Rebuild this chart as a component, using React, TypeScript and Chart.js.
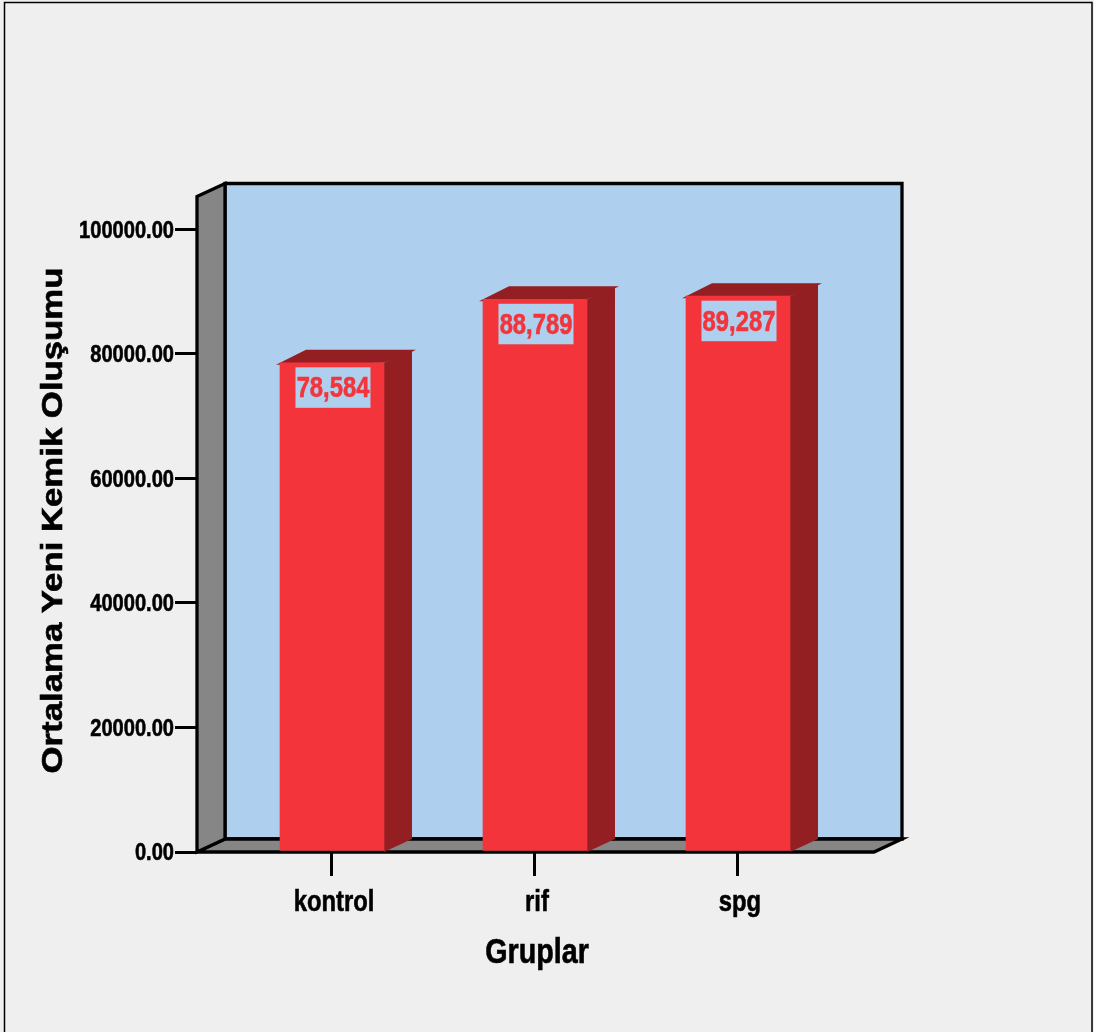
import React, { useEffect, useRef } from "react";
import { Chart, registerables } from "chart.js";

Chart.register(...registerables);

// Group means of new bone formation
const categories = ["kontrol", "rif", "spg"];
const means = [78584, 88789, 89287];
const yTicks = [0, 20000, 40000, 60000, 80000, 100000];
const xTitle = "Gruplar";
const yTitle = "Ortalama Yeni Kemik Oluşumu";

const PAGE = "#efefef";
const WALL = "#aed0ee";
const SIDE = "#868686";
const BAR = "#f3353b";
const BAR_DARK = "#941f23";
const SANS = '"Liberation Sans", Arial, sans-serif';
const NARROW_RATIO = 0.82;
const DEPTH_X = 28;
const DEPTH_Y = 13;

const poly = (ctx: CanvasRenderingContext2D, pts: number[][], fill?: string, stroke?: string) => {
  ctx.beginPath();
  pts.forEach(([x, y], i) => (i ? ctx.lineTo(x, y) : ctx.moveTo(x, y)));
  ctx.closePath();
  if (fill) {
    ctx.fillStyle = fill;
    ctx.fill();
  }
  if (stroke) {
    ctx.strokeStyle = stroke;
    ctx.lineWidth = 3.3;
    ctx.lineJoin = "miter";
    ctx.stroke();
  }
};

// Bold text squeezed or stretched along its baseline, optionally rotated
const stretchedText = (
  ctx: CanvasRenderingContext2D,
  text: string,
  x: number,
  y: number,
  size: number,
  ratio: number,
  align: CanvasTextAlign,
  color: string,
  angle = 0,
) => {
  ctx.save();
  ctx.translate(x, y);
  ctx.rotate(angle);
  ctx.scale(ratio, 1);
  ctx.font = `bold ${size}px ${SANS}`;
  ctx.fillStyle = color;
  ctx.strokeStyle = color;
  ctx.lineWidth = 0.6;
  ctx.textAlign = align;
  ctx.textBaseline = "middle";
  ctx.fillText(text, 0, 0);
  ctx.strokeText(text, 0, 0);
  ctx.restore();
};

// Outer frame, box walls, extruded bar faces and all narrow lettering
const boxPlugin = {
  id: "box3d",
  beforeDraw(chart: any) {
    const { ctx, width } = chart;
    ctx.save();
    ctx.strokeStyle = "#000";
    ctx.lineWidth = 1.5;
    ctx.strokeRect(4.5, 2.5, width - 6.5, 1100);
    ctx.restore();
  },
  beforeDatasetsDraw(chart: any) {
    const { ctx, chartArea: a } = chart;
    const { left: l, right: r, top: t, bottom: b } = a;
    const dx = DEPTH_X;
    const dy = DEPTH_Y;
    ctx.save();
    poly(ctx, [[l + dx, t - dy], [r + dx, t - dy], [r + dx, b - dy], [l + dx, b - dy]], WALL, "#000");
    poly(ctx, [[l, b], [l + dx, b - dy], [r + dx, b - dy], [r, b]], SIDE, "#000");
    poly(ctx, [[l, t], [l + dx, t - dy], [l + dx, b - dy], [l, b]], SIDE, "#000");

    chart.getDatasetMeta(0).data.forEach((bar: any) => {
      const half = bar.width / 2;
      const x0 = bar.x - half;
      const x1 = bar.x + half;
      poly(ctx, [[x1, bar.y], [x1 + dx, bar.y - dy], [x1 + dx, b - dy], [x1, b]], BAR_DARK);
      poly(
        ctx,
        [[x0 - 4, bar.y + 2], [x0 + dx - 2, bar.y - dy], [x1 + dx + 4, bar.y - dy], [x1 + dx, bar.y - dy + 2], [x1, bar.y]],
        BAR_DARK,
      );
    });
    ctx.restore();
  },
  afterDatasetsDraw(chart: any) {
    const { ctx, scales } = chart;
    ctx.save();
    chart.getDatasetMeta(0).data.forEach((bar: any, i: number) => {
      const cx = bar.x + 1;
      const top = bar.y + 4.5;
      ctx.fillStyle = WALL;
      ctx.fillRect(cx - 37.5, top, 75, 40.5);
      stretchedText(ctx, means[i].toLocaleString("en-US"), cx, top + 22, 29, NARROW_RATIO, "center", BAR);
    });
    ctx.restore();

    scales.y.ticks.forEach((tick: any) => {
      stretchedText(ctx, tick.label, 174, scales.y.getPixelForValue(tick.value) + 1.5, 24.5, NARROW_RATIO, "right", "#000");
    });
    scales.x.ticks.forEach((tick: any) => {
      stretchedText(ctx, tick.label, scales.x.getPixelForValue(tick.value) + 2, 902.5, 29, NARROW_RATIO, "center", "#000");
    });
    stretchedText(ctx, xTitle, 537, 953, 35, NARROW_RATIO, "center", "#000");
    stretchedText(ctx, yTitle, 54, 520.5, 30, 1.158, "center", "#000", -Math.PI / 2);
  },
};

export default function App() {
  const ref = useRef<HTMLCanvasElement>(null);

  useEffect(() => {
    document.body.style.margin = "0";
    document.body.style.background = PAGE;
    const chart = new Chart(ref.current!, {
      type: "bar",
      data: {
        labels: categories,
        datasets: [
          {
            data: means.map((y, x) => ({ x, y })) as any,
            backgroundColor: BAR,
            borderWidth: 0,
            barThickness: 104,
          },
        ],
      },
      plugins: [boxPlugin],
      options: {
        responsive: false,
        animation: false,
        layout: { padding: { top: 196.5, right: 220, left: 0, bottom: 0 } },
        plugins: { legend: { display: false }, tooltip: { enabled: false } },
        scales: {
          x: {
            type: "linear",
            offset: false,
            min: -0.665,
            max: 2.67,
            afterBuildTicks: (s: any) => {
              s.ticks = categories.map((_, value) => ({ value }));
            },
            afterFit: (s: any) => {
              s.height = 180;
            },
            border: { display: false },
            grid: { offset: false, drawOnChartArea: false, color: "#000", lineWidth: 3, tickLength: 24 },
            ticks: {
              display: false,
              autoSkip: false,
              maxRotation: 0,
              callback: (v: any) => categories[v],
            },
          },
          y: {
            min: 0,
            max: 105301,
            afterBuildTicks: (s: any) => {
              s.ticks = yTicks.map((value) => ({ value }));
            },
            afterFit: (s: any) => {
              s.width = 197;
            },
            border: { display: false },
            grid: { drawOnChartArea: false, color: "#000", lineWidth: 3, tickLength: 22 },
            ticks: {
              display: false,
              callback: (v: any) => Number(v).toFixed(2),
            },
          },
        },
      },
    } as any);
    return () => chart.destroy();
  }, []);

  return (
    <div style={{ width: 1094, height: 1032, background: PAGE, overflow: "hidden" }}>
      <canvas ref={ref} width={1094} height={1032} style={{ display: "block" }} />
    </div>
  );
}
